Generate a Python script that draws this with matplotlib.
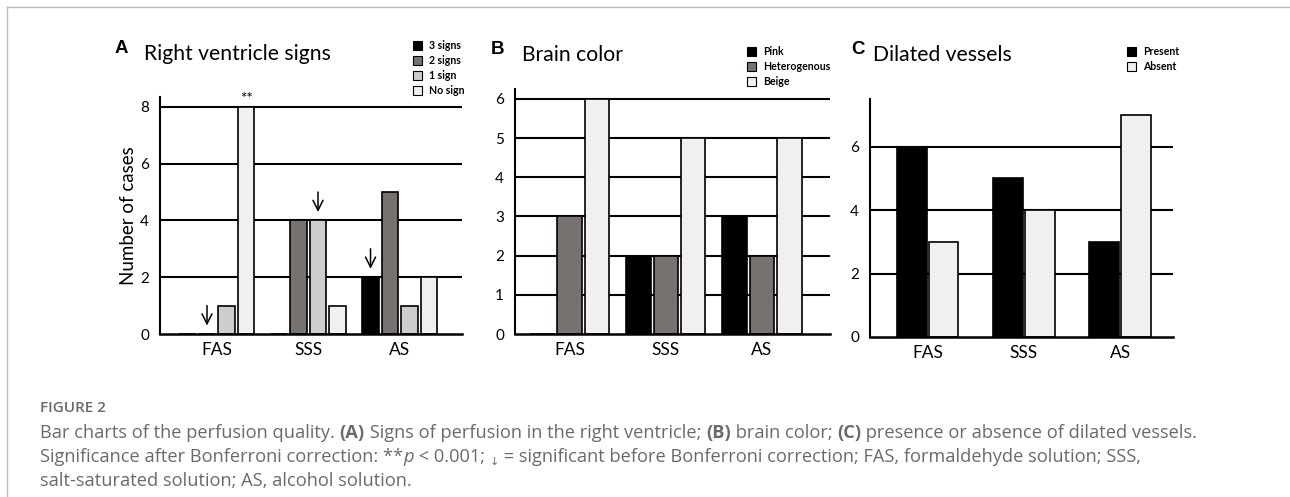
import matplotlib
matplotlib.use('Agg')
import matplotlib.pyplot as plt
from matplotlib.lines import Line2D
import numpy as np

W, H = 1290, 497

# data
groups = ['FAS', 'SSS', 'AS']

# A: right ventricle signs
rv_labels = ['3 signs', '2 signs', '1 sign', 'No sign']
three_signs = [0, 0, 2]
two_signs = [0, 4, 5]
one_sign = [1, 4, 1]
no_sign = [8, 1, 2]
rv_arrows = [(0, 1), (1, 2), (2, 0)]   # (group, series) significant before correction
rv_stars = [(0, 3, '**')]

# B: brain color
bc_labels = ['Pink', 'Heterogenous', 'Beige']
pink = [0, 2, 3]
heterogenous = [3, 2, 2]
beige = [6, 5, 5]

# C: dilated vessels
dv_labels = ['Present', 'Absent']
present = [6, 5, 3]
absent = [3, 4, 7]

BLACK = '#000000'
DARK = '#77726f'
LIGHT = '#cdcdcd'
PALE = '#f0f0f0'

plt.rcParams['font.family'] = ['Lato', 'DejaVu Sans']

fig = plt.figure(figsize=(W / 100, H / 100), dpi=100)


def px_box(left, top, right, bottom):
    return [left / W, 1 - bottom / H, (right - left) / W, (bottom - top) / H]


def style_axes(ax, yticks, grid):
    ax.set_yticks(yticks)
    for g in grid:
        ax.axhline(g, color='black', lw=1.5, zorder=1)
    ax.spines['top'].set_visible(False)
    ax.spines['right'].set_visible(False)
    ax.spines['left'].set_linewidth(1.5)
    ax.spines['bottom'].set_linewidth(1.8)
    ax.tick_params(axis='y', length=0, pad=8, labelsize=11)
    ax.tick_params(axis='x', length=0, pad=6, labelsize=12.5)
    ax.set_xticks(range(len(groups)))
    ax.set_xticklabels(groups)


def bar_group(ax, series, colors, labels, spacing, width):
    x = np.arange(len(groups))
    n = len(series)
    xs = []
    for k, (vals, c, lab) in enumerate(zip(series, colors, labels)):
        pos = x + (k - (n - 1) / 2) * spacing
        ax.bar(pos, vals, width, color=c, edgecolor='black', lw=1.2,
               label=lab, zorder=2)
        xs.append(pos)
    return xs


def legend(ax, x_px, y_px):
    leg = ax.legend(loc='upper left', bbox_to_anchor=(x_px / W, 1 - y_px / H),
                    bbox_transform=fig.transFigure, frameon=False,
                    borderpad=0, borderaxespad=0, handlelength=0.85,
                    handleheight=1.0, handletextpad=0.7, labelspacing=0.38,
                    prop={'size': 7.6, 'weight': 'bold'})
    for h in leg.legend_handles:
        h.set_linewidth(0.8)


# panel A
axA = fig.add_axes(px_box(160, 97, 462, 334))
xsA = bar_group(axA, [three_signs, two_signs, one_sign, no_sign],
                [BLACK, DARK, LIGHT, PALE], rv_labels, 0.213, 0.185)
axA.set_xlim(-0.62, 2.68)
axA.set_ylim(0, 8.35)
style_axes(axA, [0, 2, 4, 6, 8], [2, 4, 6, 8])
axA.set_ylabel('Number of cases', fontsize=13.5, labelpad=2)
vals_A = [three_signs, two_signs, one_sign, no_sign]
for g, s in rv_arrows:
    v = vals_A[s][g]
    axA.annotate('', xy=(xsA[s][g], v + 0.2), xytext=(xsA[s][g], v + 1.1),
                 arrowprops=dict(arrowstyle='->', lw=1.1, color='black',
                                 mutation_scale=18), zorder=4)
for g, s, mark in rv_stars:
    axA.text(xsA[s][g], vals_A[s][g] + 0.05, mark, ha='center', va='bottom',
             fontsize=11, clip_on=False)
legend(axA, 413, 40)

# panel B
axB = fig.add_axes(px_box(515, 89, 830, 334))
bar_group(axB, [pink, heterogenous, beige], [BLACK, DARK, PALE], bc_labels,
          0.286, 0.255)
axB.set_xlim(-0.57, 2.71)
axB.set_ylim(0, 6.25)
style_axes(axB, [0, 1, 2, 3, 4, 5, 6], [1, 2, 3, 4, 5, 6])
legend(axB, 747, 46)

# panel C
axC = fig.add_axes(px_box(870, 99, 1173, 337))
bar_group(axC, [present, absent], [BLACK, PALE], dv_labels, 0.33, 0.31)
axC.set_xlim(-0.6, 2.55)
axC.set_ylim(0, 7.5)
style_axes(axC, [0, 2, 4, 6], [2, 4, 6])
legend(axC, 1127, 46)

# panel titles
for letter, lx, title, tx, by in [('A', 115, 'Right ventricle signs', 144, 60),
                                  ('B', 491, 'Brain color', 522, 61),
                                  ('C', 851, 'Dilated vessels', 873, 61)]:
    fig.text(lx / W, 1 - (by - 7) / H, letter, fontsize=13.5, fontweight='bold',
             family='Liberation Sans', va='baseline')
    fig.text(tx / W, 1 - by / H, title, fontsize=15.2, va='baseline')

# frame
fig.add_artist(Line2D([7 / W, 1], [1 - 7 / H] * 2, transform=fig.transFigure,
                      color='#bcbcbc', lw=1))
fig.add_artist(Line2D([7 / W] * 2, [0, 1 - 7 / H], transform=fig.transFigure,
                      color='#bcbcbc', lw=1))

# caption
renderer = fig.canvas.get_renderer()
CAP = '#6a6a6a'
cap_font = ['Open Sans', 'DejaVu Sans']
cap_size = 13.15
cap_x = 40


def runs(x_px, y_px, parts):
    x = x_px
    for txt, kw in parts:
        dy = kw.pop('dy', 0)
        t = fig.text(x / W, 1 - (y_px + dy) / H, txt, va='baseline', ha='left',
                     color=CAP, family=cap_font, fontsize=kw.pop('size', cap_size),
                     **kw)
        x += t.get_window_extent(renderer).width


runs(cap_x, 412, [('FIGURE 2', dict(size=11, fontweight='semibold'))])
runs(cap_x, 438, [('Bar charts of the perfusion quality. ', {}),
                  ('(A)', dict(fontweight='bold')),
                  (' Signs of perfusion in the right ventricle; ', {}),
                  ('(B)', dict(fontweight='bold')),
                  (' brain color; ', {}),
                  ('(C)', dict(fontweight='bold')),
                  (' presence or absence of dilated vessels.', {})])
runs(cap_x, 462, [('Significance after Bonferroni correction: **', {}),
                  ('p', dict(style='italic')),
                  (' < 0.001; ', {}),
                  ('\u2193', dict(size=8, dy=3)),
                  (' = significant before Bonferroni correction; FAS, formaldehyde '
                   'solution; SSS,', {})])
runs(cap_x, 486, [('salt-saturated solution; AS, alcohol solution.', {})])

fig.savefig('out.png', dpi=100)
